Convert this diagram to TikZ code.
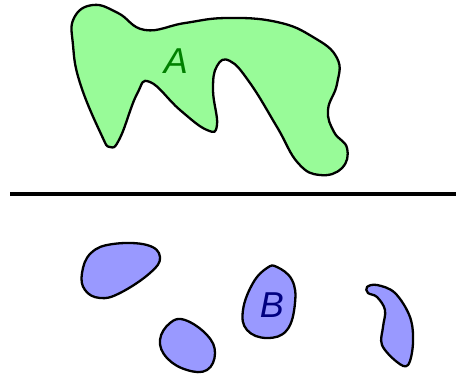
\documentclass[tikz,border=0pt]{standalone}
\usepackage{fontspec}
\setmainfont{Liberation Sans}
\definecolor{setA}{RGB}{152,251,152}
\definecolor{setB}{RGB}{153,153,255}
\definecolor{labelA}{RGB}{0,128,0}
\definecolor{labelB}{RGB}{0,0,128}
\tikzset{
  blob/.style={draw=black, line width=2.3pt, line join=round},
  setlabel/.style={font=\fontsize{36}{40}\selectfont\itshape, inner sep=0pt}
}
\begin{document}
\begin{tikzpicture}[x=1pt, y=-1pt]
		\useasboundingbox (0, 0) rectangle (456, 376);
		
		% set A, one connected region
		\filldraw[blob, fill=setA] plot[smooth cycle, tension=0.75] coordinates {
			(74,18) (93,5) (118,13) (145,30) (185,23) (227,18) (277,22)
			(313,37) (337,58) (337,84) (328,110) (334,132) (347,148)
			(342,168) (320,175) (298,163) (277,127) (250,83) (230,61)
			(217,66) (213,90) (217,125) (207,130) (180,110) (150,82)
			(137,94) (120,138) (110,147) (101,134) (80,83) (73,45)};
		\node[setlabel, text=labelA] (A) at (176, 61) {A};
		
		% separating line
		\coordinate (left) at (10, 194);
		\coordinate (right) at (456, 194);
		\draw[line width=4pt] (left) -- (right);
		
		% set B, four pieces
		\filldraw[blob, fill=setB] plot[smooth cycle, tension=0.7] coordinates {
			(82,273) (91,253) (113,244) (147,245) (160,257) (150,273)
			(120,293) (100,298) (85,290)};
		\filldraw[blob, fill=setB] plot[smooth cycle, tension=0.7] coordinates {
			(160,340) (170,323) (185,320) (207,335) (215,353) (207,370)
			(187,370) (167,358)};
		\filldraw[blob, fill=setB] plot[smooth cycle, tension=0.7] coordinates {
			(277,267) (292,280) (295,303) (287,330) (267,338) (247,330)
			(243,310) (253,283) (267,268)};
		\filldraw[blob, fill=setB] plot[smooth cycle, tension=0.6] coordinates {
			(367,287) (377,285) (395,293) (410,317) (413,343) (408,365)
			(397,362) (382,345) (383,327) (385,310) (377,297) (368,293)};
		\node[setlabel, text=labelB] (B) at (272, 305) {B};
	\end{tikzpicture}
\end{document}
